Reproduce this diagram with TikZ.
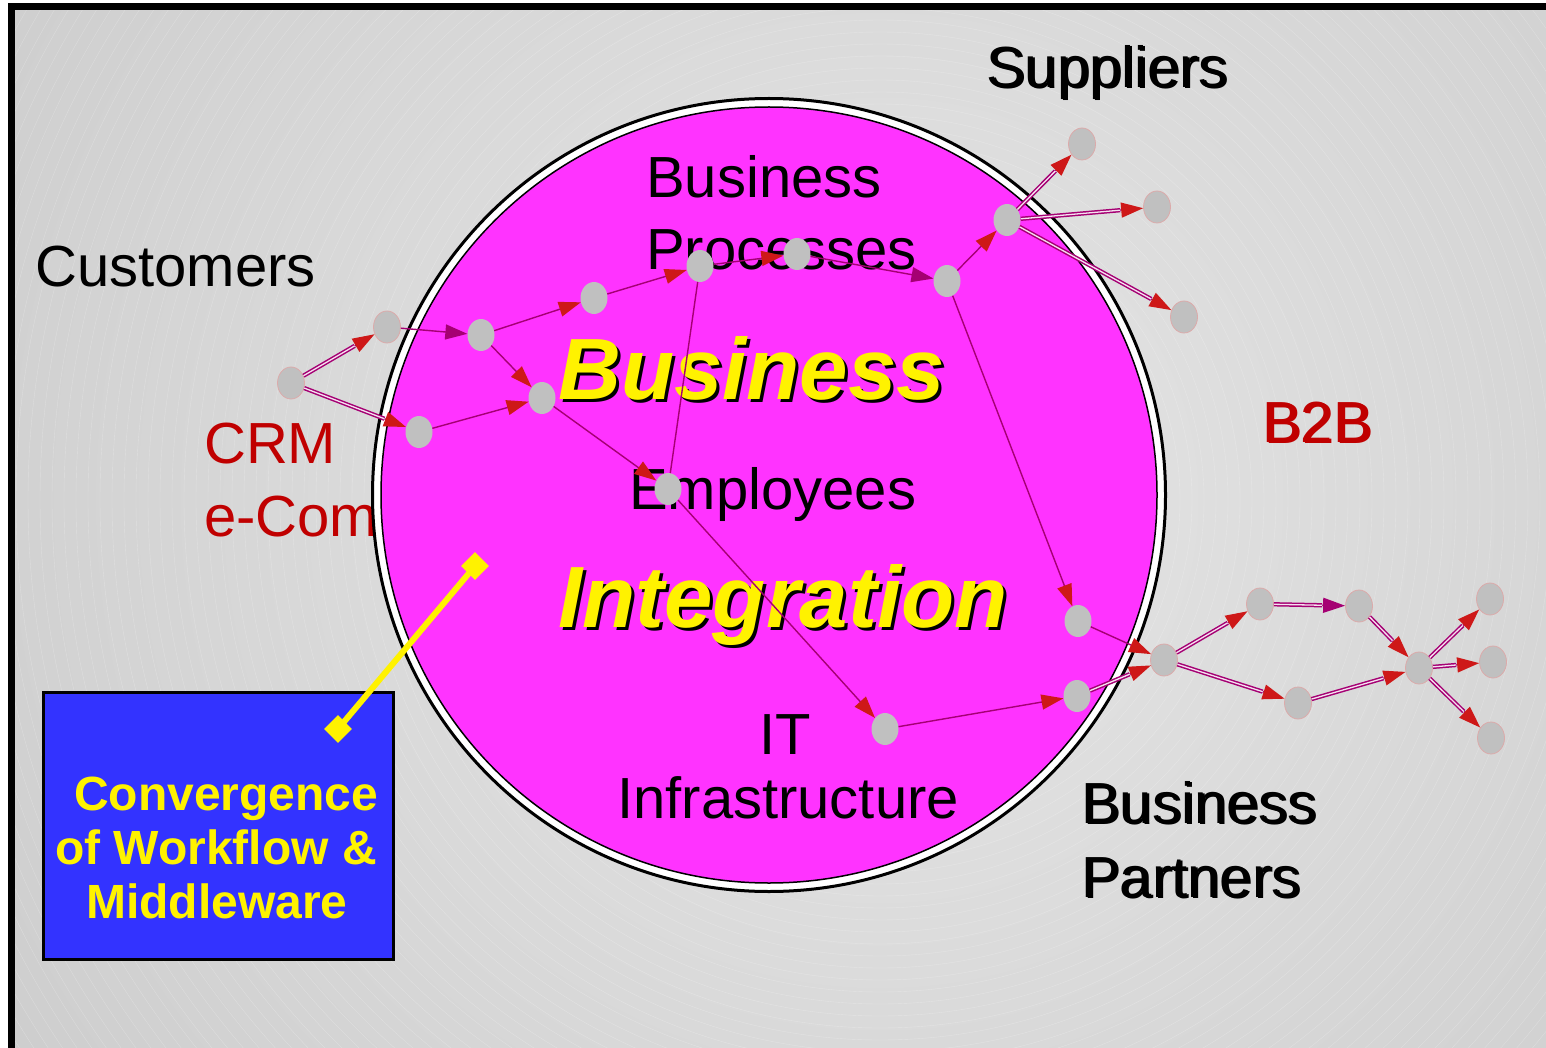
\documentclass[tikz,border=0pt]{standalone}
\usepackage{fontspec}
\setmainfont{Liberation Sans}
\usetikzlibrary{shapes.geometric,arrows.meta}
\definecolor{mag}{RGB}{255,51,255}
\definecolor{edgec}{RGB}{165,0,115}
\definecolor{tipred}{RGB}{206,24,24}
\definecolor{nodegray}{RGB}{192,192,192}
\definecolor{nodeline}{RGB}{220,170,170}
\definecolor{darkred}{RGB}{192,0,0}
\definecolor{boxblue}{RGB}{51,51,255}
\definecolor{bglight}{RGB}{230,230,230}
\definecolor{bgdark}{RGB}{180,180,180}
\definecolor{dblin}{RGB}{245,225,240}
\pgfdeclareradialshading{bgshade}{\pgfpoint{0bp}{0bp}}{color(0bp)=(bglight); color(50bp)=(bgdark)}
\begin{document}
\begin{tikzpicture}[x=1pt,y=-1pt,
  pt/.style={ellipse, fill=nodegray, minimum width=27pt, minimum height=32pt, inner sep=0pt},
  ptout/.style={pt, draw=nodeline, line width=0.8pt},
  sgl/.style={draw=edgec, line width=1.4pt, -{Triangle[length=22pt,width=15pt,color=tipred]}},
  sglm/.style={draw=edgec, line width=1.4pt, -{Triangle[length=22pt,width=15pt,color=edgec]}},
  plainedge/.style={draw=edgec, line width=1.4pt},
  dbl/.style={draw=edgec, line width=1.5pt, double=dblin, double distance=1.3pt, shorten >=23pt},
  big/.style={font=\fontsize{58}{60}\selectfont, inner sep=0pt, anchor=base west},
  huge/.style={font=\fontsize{87}{90}\selectfont\bfseries\itshape, inner sep=0pt, anchor=base west},
  boxt/.style={font=\fontsize{48}{50}\selectfont\bfseries, text=yellow, inner sep=0pt, anchor=base west}
]
\useasboundingbox (0,0) rectangle (1546,1048);
% background
\begin{scope}
  \clip (15,10) rectangle (1546,1048);
  \shade[shading=bgshade] (880,500) circle (1060);
  \foreach \r in {300,312,...,1100} \draw[white, opacity=0.25, line width=0.4pt] (880,500) circle (\r);
\end{scope}
\draw[line width=7pt, line join=miter] (11.5,1048) -- (11.5,7) -- (1546,7);

% texts under the circle
\node[big, text=darkred] (tcrm) at (204,463) {CRM};
\node[big, text=darkred] (tecom) at (204,536) {e-Com};

% circle
\node[circle, draw=black, line width=3pt, fill=white, minimum size=793pt, inner sep=0pt] (ring) at (769,495) {};
\node[circle, draw=black, line width=1.5pt, fill=mag, minimum size=776pt, inner sep=0pt] (disc) at (769,495) {};

% labels
\node[big] (tcust) at (35,287) {Customers};
\node[big] (tsups) at (988,89) {Suppliers};
\node[big] (tsup) at (986,88) {Suppliers};
\node[big] (tbp1) at (646,198) {Business};
\node[big] (tbp2) at (646,270) {Processes};
\node[big] (temp) at (629,509) {Employees};
\node[big] (tit) at (759,754) {IT};
\node[big] (tinf) at (617,818) {Infrastructure};
\node[big, text=darkred] (tb2bs) at (1264,443) {B2B};
\node[big, text=darkred] (tb2b) at (1262,442) {B2B};
\node[big] (tpa1s) at (1083,824) {Business};
\node[big] (tpa1) at (1081,823) {Business};
\node[big] (tpa2s) at (1083,898) {Partners};
\node[big] (tpa2) at (1081,897) {Partners};
\node[huge, text=black] (tbigs) at (561,402) {Business};
\node[huge, text=yellow] (tbig) at (558,399) {Business};
\node[huge, text=black] (tints) at (561,630) {Integration};
\node[huge, text=yellow] (tint) at (558,627) {Integration};

% blue box
\node[draw=black, line width=3pt, fill=boxblue, minimum width=350pt, minimum height=267pt, anchor=north west, inner sep=0pt] (box) at (42,691) {};
\node[boxt] (bx1) at (74,810) {Convergence};
\node[boxt] (bx2) at (55,864) {of Workflow \&};
\node[boxt] (bx3) at (86,918) {Middleware};
\node[diamond, fill=yellow, minimum size=28pt, inner sep=0pt] (d1) at (475,566) {};
\node[diamond, fill=yellow, minimum size=28pt, inner sep=0pt] (d2) at (338,729) {};
\draw[yellow, line width=6pt] (d1.center) -- (d2.center);

% process nodes
\node[ptout] (A) at (291,383) {};
\node[ptout] (B) at (387,327) {};
\node[pt] (C) at (481,335) {};
\node[pt] (D) at (419,432) {};
\node[pt] (E) at (542,398) {};
\node[pt] (F) at (594,298) {};
\node[pt] (G) at (700,266) {};
\node[pt] (H) at (797,254) {};
\node[pt] (I) at (947,281) {};
\node[pt] (J) at (1007,220) {};
\node[ptout] (K) at (1082,144) {};
\node[ptout] (L) at (1157,207) {};
\node[ptout] (M) at (1184,317) {};
\node[pt] (N) at (668,489) {};
\node[pt] (O) at (1078,621) {};
\node[pt] (P) at (885,729) {};
\node[pt] (Q) at (1077,696) {};
\node[ptout] (R) at (1164,660) {};
\node[ptout] (S) at (1260,604) {};
\node[ptout] (T) at (1359,606) {};
\node[ptout] (U) at (1298,703) {};
\node[ptout] (V) at (1419,668) {};
\node[ptout] (W) at (1490,599) {};
\node[ptout] (X) at (1493,662) {};
\node[ptout] (Y) at (1491,738) {};

% connectors
\draw[sgl] (A) -- (B); \draw[dbl] (A) -- (B);
\draw[sgl] (A) -- (D); \draw[dbl] (A) -- (D);
\draw[sglm] (B) -- (C);
\draw[sgl] (C) -- (E);
\draw[sgl] (C) -- (F);
\draw[sgl] (D) -- (E);
\draw[sgl] (F) -- (G);
\draw[sgl] (G) -- (H);
\draw[sglm] (H) -- (I);
\draw[sgl] (I) -- (J);
\draw[sgl] (J) -- (K); \draw[dbl] (J) -- (K);
\draw[sgl] (J) -- (L); \draw[dbl] (J) -- (L);
\draw[sgl] (J) -- (M); \draw[dbl] (J) -- (M);
\draw[plainedge] (G) -- (N);
\draw[sgl] (E) -- (N);
\draw[sgl] (N) -- (P);
\draw[sgl] (I) -- (O);
\draw[sgl] (P) -- (Q);
\draw[sgl] (O) -- (R);
\draw[sgl] (Q) -- (R); \draw[dbl] (Q) -- (R);
\draw[sgl] (R) -- (S); \draw[dbl] (R) -- (S);
\draw[sgl] (R) -- (U); \draw[dbl] (R) -- (U);
\draw[sglm] (S) -- (T); \draw[dbl] (S) -- (T);
\draw[sgl] (T) -- (V); \draw[dbl] (T) -- (V);
\draw[sgl] (U) -- (V); \draw[dbl] (U) -- (V);
\draw[sgl] (V) -- (W); \draw[dbl] (V) -- (W);
\draw[sgl] (V) -- (X); \draw[dbl] (V) -- (X);
\draw[sgl] (V) -- (Y); \draw[dbl] (V) -- (Y);
\end{tikzpicture}
\end{document}
